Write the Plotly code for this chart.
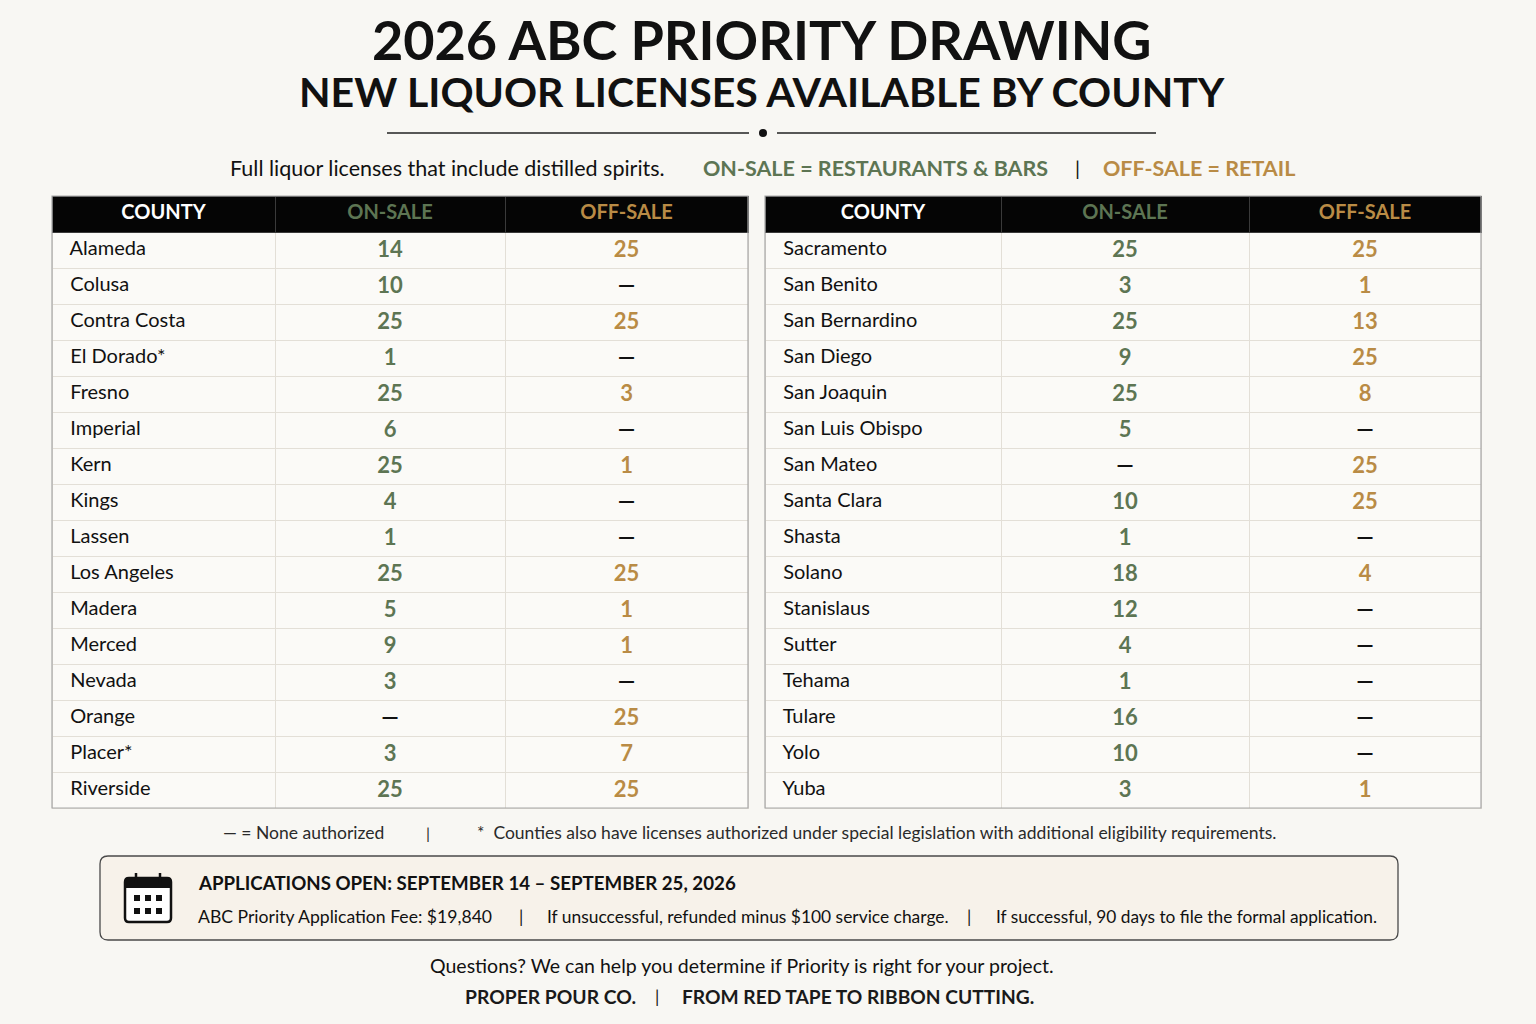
import plotly.graph_objects as go

# ---- data ----
counties_left = ["Alameda", "Colusa", "Contra Costa", "El Dorado*", "Fresno", "Imperial",
                 "Kern", "Kings", "Lassen", "Los Angeles", "Madera", "Merced",
                 "Nevada", "Orange", "Placer*", "Riverside"]
on_left = [14, 10, 25, 1, 25, 6, 25, 4, 1, 25, 5, 9, 3, None, 3, 25]
off_left = [25, None, 25, None, 3, None, 1, None, None, 25, 1, 1, None, 25, 7, 25]

counties_right = ["Sacramento", "San Benito", "San Bernardino", "San Diego", "San Joaquin",
                  "San Luis Obispo", "San Mateo", "Santa Clara", "Shasta", "Solano",
                  "Stanislaus", "Sutter", "Tehama", "Tulare", "Yolo", "Yuba"]
on_right = [25, 3, 25, 9, 25, 5, None, 10, 1, 18, 12, 4, 1, 16, 10, 3]
off_right = [25, 1, 13, 25, 8, None, 25, 25, None, 4, None, None, None, None, None, 1]

headers = ["COUNTY", "ON-SALE", "OFF-SALE"]

# ---- styles ----
W, H = 1536, 1024
BG = "#f8f7f3"
CELL_BG = "#fbfaf7"
GREEN = "#5d7553"
GOLD = "#b98b45"
INK = "#111111"
DASH = "—"
FONT = "Lato"


def fmt(vals):
    return [DASH if v is None else str(v) for v in vals]


def colors(vals, c):
    return [INK if v is None else c for v in vals]


def px_x(x):
    return x / W


def px_y(y):
    return 1 - y / H


fig = go.Figure()


def add_table(x0, x1, y0, y1, widths, names, on, off):
    # non-breaking spaces keep plotly from wrapping the county names
    shown = [n.replace(" ", "\u00a0") for n in names]
    fig.add_trace(go.Table(
        domain=dict(x=[px_x(x0), px_x(x1)], y=[px_y(y1 + 6), px_y(y0)]),
        columnwidth=widths,
        header=dict(
            values=headers,
            fill_color="#050505",
            line=dict(color="#3a3a3a", width=1),
            align="center",
            height=36,
            font=dict(family=FONT, size=20, weight="bold", color=["#ffffff", GREEN, GOLD]),
        ),
        cells=dict(
            values=[shown, fmt(on), fmt(off)],
            prefix=["\u00a0\u00a0", "", ""],
            fill_color=CELL_BG,
            line=dict(color="#e3dfd7", width=1),
            align=["left", "center", "center"],
            height=36,
            font=dict(family=FONT, size=[20, 22, 22], weight=["normal", "bold", "bold"],
                      color=[[INK] * len(names), colors(on, GREEN), colors(off, GOLD)]),
        ),
    ))
    fig.add_shape(type="rect", x0=x0, x1=x1, y0=y0, y1=y1,
                  line=dict(color="#a8a8a8", width=1.2), layer="above")


add_table(52, 748, 196, 808, [223, 230, 243], counties_left, on_left, off_left)
add_table(765, 1481, 196, 808, [236, 248, 232], counties_right, on_right, off_right)


def text(x, y, s, size, color=INK, anchor="left", family=FONT, weight="normal"):
    fig.add_annotation(x=x, y=y, xref="x", yref="y", text=s, showarrow=False,
                       xanchor=anchor, yanchor="middle",
                       font=dict(family=family, size=size, color=color, weight=weight))


# titles (one block so the two lines sit tight like the poster)
text(762, 61,
     "<span style='font-size:54px'>2026 ABC PRIORITY DRAWING</span><br>"
     "<span style='font-size:41px'>NEW LIQUOR LICENSES AVAILABLE BY COUNTY</span>",
     36, anchor="center", weight="bold")

# divider
fig.add_shape(type="line", x0=387, x1=749, y0=133, y1=133, line=dict(color="#222", width=1.5))
fig.add_shape(type="line", x0=777, x1=1156, y0=133, y1=133, line=dict(color="#222", width=1.5))
fig.add_shape(type="circle", x0=759, x1=767, y0=129, y1=137,
              fillcolor="#111", line=dict(color="#111", width=0))

# subtitle
text(228, 168, "Full liquor licenses that include distilled spirits.", 21.5)
text(701, 168, "ON-SALE = RESTAURANTS & BARS", 21.5, color=GREEN, weight="bold")
text(1077, 168, "|", 20, anchor="center")
text(1101, 168, "OFF-SALE = RETAIL", 21.5, color=GOLD, weight="bold")

# footnote
text(221, 832, "— = None authorized", 17.5, color="#2a2a2a")
text(428, 832, "|", 16, color="#2a2a2a", anchor="center")
text(475, 832, "*\u00a0 Counties also have licenses authorized under special legislation with additional eligibility requirements.",
     17.5, color="#2a2a2a")

# applications box
fig.add_shape(type="path",
              path="M 108 856 L 1390 856 Q 1398 856 1398 864 L 1398 932 Q 1398 940 1390 940 "
                   "L 108 940 Q 100 940 100 932 L 100 864 Q 100 856 108 856 Z",
              fillcolor="#f7f2ea", line=dict(color="#4a4a4a", width=1.3), layer="below")

# calendar icon
fig.add_shape(type="path",
              path="M 129 878 L 167 878 Q 171 878 171 882 L 171 918 Q 171 922 167 922 "
                   "L 129 922 Q 125 922 125 918 L 125 882 Q 125 878 129 878 Z",
              fillcolor="#ffffff", line=dict(color="#111", width=2.5))
fig.add_shape(type="rect", x0=125, x1=171, y0=878, y1=888, fillcolor="#111", line=dict(width=0))
for cx in (136, 160):
    fig.add_shape(type="line", x0=cx, x1=cx, y0=873, y1=883, line=dict(color="#111", width=2.5))
for ry in (895, 908):
    for cx in (134, 145, 156):
        fig.add_shape(type="rect", x0=cx, x1=cx + 6, y0=ry, y1=ry + 6,
                      fillcolor="#111", line=dict(width=0))

text(196, 883, "APPLICATIONS OPEN: SEPTEMBER 14 – SEPTEMBER 25, 2026", 18.7, weight="bold")
text(196, 916, "ABC Priority Application Fee: $19,840", 17.6)
text(521, 916, "|", 17, anchor="center")
text(545, 916, "If unsuccessful, refunded minus $100 service charge.", 17.4)
text(969, 916, "|", 17, anchor="center")
text(994, 916, "If successful, 90 days to file the formal application.", 17.3)

# closing lines
text(742, 965, "Questions? We can help you determine if Priority is right for your project.", 19.5, anchor="center")
text(463, 996, "PROPER POUR CO.", 19.3, weight="bold", color="#1a1a1a")
text(657, 996, "|", 17, anchor="center")
text(680, 996, "FROM RED TAPE TO RIBBON CUTTING.", 19.2, weight="bold", color="#1a1a1a")

fig.update_layout(
    width=W, height=H,
    margin=dict(l=0, r=0, t=0, b=0),
    paper_bgcolor=BG, plot_bgcolor=BG,
    showlegend=False,
    xaxis=dict(range=[0, W], visible=False, fixedrange=True),
    yaxis=dict(range=[H, 0], visible=False, fixedrange=True),
)

fig.write_html("out.html", config={"displayModeBar": False},
               post_script="document.body.style.margin='0';"
                           "document.body.style.background='%s';" % BG)
